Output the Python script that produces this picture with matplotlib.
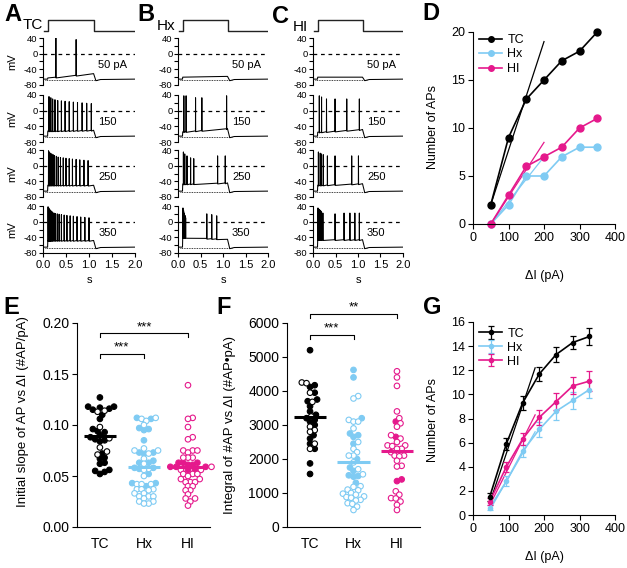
import numpy as np
import matplotlib
matplotlib.use('Agg')
import matplotlib.pyplot as plt

plt.rcParams['font.family'] = ['Liberation Sans', 'DejaVu Sans']
plt.rcParams['axes.linewidth'] = 0.8
plt.rcParams['xtick.major.width'] = 0.8
plt.rcParams['ytick.major.width'] = 0.8

# ---------------- data ----------------
groups = ['TC', 'Hx', 'HI']
step_labels = ['50 pA', '150', '250', '350']

# example traces: spike times (s), spike peaks (mV), plateau start/end (mV)
TC_spikes = [
    [0.28, 0.72],
    [0.13, 0.17, 0.21, 0.26, 0.32, 0.40, 0.48, 0.57, 0.66, 0.75, 0.85, 0.95, 1.05],
    [0.12, 0.14, 0.165, 0.19, 0.22, 0.25, 0.29, 0.33, 0.38, 0.44, 0.50, 0.57,
     0.64, 0.72, 0.80, 0.89, 0.98],
    [0.11, 0.125, 0.14, 0.155, 0.17, 0.19, 0.21, 0.24, 0.27, 0.31, 0.35, 0.40,
     0.46, 0.52, 0.59, 0.66, 0.74, 0.82, 0.91, 1.00],
]
TC_peaks = [
    [40, 36],
    [36, 33, 30, 28, 26, 25, 24, 23, 22, 21, 20, 19, 18],
    [38, 35, 32, 30, 28, 26, 24, 22, 21, 20, 19, 18, 17, 16, 15, 14, 13],
    [38, 35, 32, 30, 28, 26, 24, 22, 21, 20, 19, 18, 17, 16, 15, 14, 13, 12, 11, 10],
]
TC_plateau = [(-62, -51), (-52, -50), (-50, -50), (-48, -48)]

Hx_spikes = [
    [],
    [0.13, 0.18, 0.39, 0.53, 1.08],
    [0.12, 0.15, 0.20, 0.28, 0.35, 0.88, 1.05],
    [0.11, 0.125, 0.14, 0.155, 0.17, 0.64, 0.75, 0.86],
]
Hx_peaks = [
    [],
    [38, 38, 33, 33, 38],
    [35, 30, 25, 20, 18, 25, 25],
    [35, 28, 22, 16, 10, 20, 18, 15],
]
Hx_plateau = [(-60, -58), (-54, -46), (-47, -44), (-40, -45)]

HI_spikes = [
    [],
    [0.14, 0.19, 0.30, 0.49, 0.75, 1.03],
    [0.12, 0.16, 0.19, 0.23, 0.32, 0.49, 0.86, 1.01],
    [0.11, 0.13, 0.15, 0.17, 0.19, 0.22, 0.49, 0.69, 0.82, 0.93, 1.03],
]
HI_peaks = [
    [],
    [38, 35, 30, 30, 30, 30],
    [35, 32, 30, 28, 25, 25, 25, 25],
    [35, 32, 30, 28, 25, 22, 20, 22, 22, 22, 22],
]
HI_plateau = [(-60, -60), (-55, -48), (-50, -46), (-46, -46)]

# panel D: example cell
D_current = [50, 100, 150, 200, 250, 300, 350]
D_TC = [2, 9, 13, 15, 17, 18, 20]
D_Hx = [0, 2, 5, 5, 7, 8, 8]
D_HI = [0, 3, 6, 7, 8, 10, 11]
D_fit_x = [50, 200]
D_fit_TC = [2, 19]
D_fit_Hx = [0, 7]
D_fit_HI = [0, 8.5]

# panel E: initial slope (filled / open symbols)
E_TC_filled = [0.127, 0.118, 0.118, 0.117, 0.116, 0.115, 0.110, 0.106, 0.096, 0.094,
               0.093, 0.090, 0.088, 0.086, 0.085, 0.084, 0.072, 0.068, 0.067, 0.063,
               0.062, 0.056, 0.055, 0.054, 0.052]
E_TC_open = [0.114, 0.113, 0.098, 0.087, 0.078, 0.074, 0.071]
E_Hx_filled = [0.107, 0.106, 0.097, 0.096, 0.095, 0.085, 0.073, 0.073, 0.072, 0.065,
               0.063, 0.063, 0.058, 0.058, 0.057, 0.052, 0.043, 0.043, 0.040]
E_Hx_open = [0.107, 0.106, 0.104, 0.100, 0.077, 0.075, 0.075, 0.072, 0.067, 0.062,
             0.057, 0.056, 0.050, 0.042, 0.042, 0.042, 0.037, 0.037, 0.037, 0.036,
             0.033, 0.033, 0.030, 0.030, 0.030, 0.028, 0.025, 0.025, 0.023, 0.023]
E_HI_filled = [0.063, 0.063, 0.063, 0.061, 0.061, 0.059, 0.059, 0.059, 0.056, 0.056]
E_HI_open = [0.139, 0.107, 0.106, 0.098, 0.088, 0.086, 0.075, 0.075, 0.075, 0.073,
             0.068, 0.068, 0.068, 0.059, 0.056, 0.056, 0.052, 0.052, 0.052, 0.050,
             0.047, 0.047, 0.044, 0.044, 0.044, 0.040, 0.040, 0.036, 0.036, 0.032,
             0.028, 0.028, 0.025, 0.021]
E_means = [0.089, 0.059, 0.059]

# panel F: integral
F_TC_filled = [5200, 4170, 4120, 3950, 3750, 3700, 3550, 3400, 3300, 3200, 3150, 3100,
               3000, 2700, 2600, 2450, 2300, 1870, 1560]
F_TC_open = [4250, 4230, 3950, 3680, 3250, 2950, 2850, 2800, 2450, 2300]
F_Hx_filled = [4620, 4400, 3200, 2750, 2700, 2650, 2450, 2000, 1750, 1650, 1520, 1500,
               1480, 1300]
F_Hx_open = [3850, 3780, 3150, 3100, 3100, 2900, 2500, 2300, 2200, 2100, 2100, 1900,
             1700, 1550, 1200, 1180, 1100, 1080, 1000, 980, 950, 900, 880, 860, 800,
             780, 700, 680, 600, 500]
F_HI_filled = [3100, 2650, 1400, 1350]
F_HI_open = [4580, 4400, 4150, 3400, 3200, 3050, 2950, 2700, 2600, 2500, 2400, 2400,
             2380, 2300, 2300, 2200, 2100, 2100, 2080, 1950, 1800, 1780, 1050, 950,
             850, 840, 750, 650, 500]
F_means = [3250, 1920, 2250]

# panel G: population mean +/- SEM
G_current = [47, 94, 140, 187, 234, 281, 328]
G_TC = [1.5, 5.9, 9.3, 11.7, 13.3, 14.3, 14.8]
G_TC_err = [0.3, 0.5, 0.6, 0.6, 0.6, 0.5, 0.7]
G_Hx = [0.6, 2.8, 5.3, 7.1, 8.6, 9.5, 10.4]
G_Hx_err = [0.2, 0.4, 0.5, 0.6, 0.7, 0.7, 0.7]
G_HI = [1.1, 4.0, 6.3, 8.1, 9.4, 10.7, 11.1]
G_HI_err = [0.3, 0.4, 0.5, 0.6, 0.7, 0.7, 0.8]
G_fit_x = [47, 175]
G_fit_TC = [1.0, 12.2]
G_fit_Hx = [0.4, 6.9]
G_fit_HI = [0.8, 8.3]

BLACK = '#000000'
BLUE = '#7fcbf3'
PINK = '#e5198c'
colors = [BLACK, BLUE, PINK]

# ---------------- figure ----------------
W, H = 627, 568
fig = plt.figure(figsize=(W / 100, H / 100), dpi=100)


def add_ax(l, t, r, b):
    return fig.add_axes([l / W, 1 - b / H, (r - l) / W, (b - t) / H])


def ftext(x, y, s, **kw):
    return fig.text(x / W, 1 - y / H, s, **kw)


REST = -65
T_ON, T_OFF = 0.10, 1.10


def build_trace(spk, pk, plat):
    v0, v1 = plat
    t = [0.0, T_ON, T_ON + 0.005]
    v = [REST, REST, v0]
    for ts, p in zip(spk, pk):
        base = v0 + (v1 - v0) * (ts - T_ON) / (T_OFF - T_ON)
        t += [ts - 0.002, ts, ts + 0.003]
        v += [base, p, base - 2]
    t += [T_OFF, T_OFF + 0.05, T_OFF + 0.15, 2.0]
    v += [v1, REST - 4, REST - 1, REST]
    return t, v


row_tops = [38, 95, 150, 206]
row_h = 47
panel_lefts = [43, 178, 313]
panel_w = [92, 90, 90]
all_spikes = [TC_spikes, Hx_spikes, HI_spikes]
all_peaks = [TC_peaks, Hx_peaks, HI_peaks]
all_plat = [TC_plateau, Hx_plateau, HI_plateau]

for p in range(3):
    L = panel_lefts[p]
    R = L + panel_w[p]
    # stimulus step
    sax = add_ax(L, 18, R, 33)
    sax.plot([0.03, T_ON, T_ON, T_OFF, T_OFF, 2.0], [0, 0, 1, 1, 0, 0], color='#222222', lw=1.0)
    sax.set_xlim(0, 2)
    sax.set_ylim(-0.2, 1.2)
    sax.axis('off')
    for r in range(4):
        ax = add_ax(L, row_tops[r], R, row_tops[r] + row_h)
        t, v = build_trace(all_spikes[p][r], all_peaks[p][r], all_plat[p][r])
        ax.plot(t, v, color='black', lw=0.75)
        ax.plot([0, 2], [0, 0], color='black', lw=0.9, ls=(0, (3, 3)))
        ax.plot([0.05, 1.2], [REST - 1, REST - 1], color='black', lw=0.6, ls=(0, (1, 1)))
        ax.set_xlim(0, 2)
        ax.set_ylim(-80, 40)
        ax.set_yticks([-80, -60, -40, -20, 0, 20, 40])
        ax.set_yticklabels(['-80', '', '-40', '', '0', '', '40'])
        ax.tick_params(axis='y', length=3, labelsize=6.8, pad=1)
        for s in ['top', 'right']:
            ax.spines[s].set_visible(False)
        ax.text(1.2, -30, step_labels[r], fontsize=8, va='center', ha='left')
        if r < 3:
            ax.spines['bottom'].set_visible(False)
            ax.set_xticks([])
        else:
            ax.set_xticks([0, 0.5, 1.0, 1.5, 2.0])
            ax.set_xticklabels(['0.0', '0.5', '1.0', '1.5', '2.0'])
            ax.tick_params(axis='x', length=3, labelsize=8, pad=2)
        if p == 0:
            ftext(12, row_tops[r] + row_h / 2, 'mV', rotation=90, fontsize=8,
                  ha='center', va='center')
    ftext(L + panel_w[p] / 2, 280, 's', fontsize=8, ha='center', va='center')

ftext(23, 29, 'TC', fontsize=11, ha='left', va='baseline')
ftext(157, 30, 'Hx', fontsize=11, ha='left', va='baseline')
ftext(293, 31, 'HI', fontsize=11, ha='left', va='baseline')

# panel letters
for lab, x, y in [('A', 4, 3), ('B', 137, 3), ('C', 272, 5), ('D', 422, 2),
                  ('E', 3, 296), ('F', 216, 296), ('G', 423, 296)]:
    ftext(x, y, lab, fontsize=17, fontweight='bold', ha='left', va='top')


def style_axes(ax):
    for s in ['top', 'right']:
        ax.spines[s].set_visible(False)
    ax.tick_params(length=3.5, labelsize=9, pad=2)


# ---------------- panel D ----------------
axD = add_ax(473, 32, 615, 224)
for c, f in [(BLACK, D_fit_TC), (BLUE, D_fit_Hx), (PINK, D_fit_HI)]:
    axD.plot(D_fit_x, f, color=c, lw=0.9)
lines = []
for y, c, name in [(D_TC, BLACK, 'TC'), (D_Hx, BLUE, 'Hx'), (D_HI, PINK, 'HI')]:
    ln, = axD.plot(D_current, y, color=c, lw=1.2, marker='o', ms=5, clip_on=False, label=name)
    lines.append(ln)
axD.set_xlim(0, 400)
axD.set_ylim(0, 20)
axD.set_xticks([0, 100, 200, 300, 400])
axD.set_yticks([0, 5, 10, 15, 20])
style_axes(axD)
axD.legend(handles=lines, loc='upper left', bbox_to_anchor=(0.04, 0.99), frameon=False,
           fontsize=9, handlelength=1.9, handletextpad=0.4, labelspacing=0.2,
           borderpad=0, borderaxespad=0, markerscale=0.8)
ftext(544, 276, 'ΔI (pA)', fontsize=9, ha='center', va='center')
ftext(433, 127, 'Number of APs', fontsize=9, ha='center', va='center', rotation=90)


# ---------------- beeswarm helper ----------------
def swarm(vals, px_y, px_x, d=4.7):
    vals = np.asarray(vals, float)
    order = np.argsort(vals)
    placed = []
    offs = np.zeros(len(vals))
    step = d / 4.0
    for i in order:
        y = vals[i] * px_y
        ok = 0.0
        for k in range(0, 80):
            cands = [0.0] if k == 0 else [k * step, -k * step]
            found = False
            for x in cands:
                if all((x - px) ** 2 + (y - py) ** 2 >= d * d for px, py in placed):
                    ok = x
                    found = True
                    break
            if found:
                break
        placed.append((ok, y))
        offs[i] = ok / px_x
    return offs


def dot_panel(ax, filled, opened, means, px_y, px_x):
    for g in range(3):
        vals = list(filled[g]) + list(opened[g])
        isf = [True] * len(filled[g]) + [False] * len(opened[g])
        offs = swarm(vals, px_y, px_x)
        xs = g + offs
        fc = [colors[g] if f else 'white' for f in isf]
        ax.scatter(xs, vals, s=16, facecolors=fc, edgecolors=colors[g], linewidths=0.8,
                   zorder=3, clip_on=False)
        ax.plot([g - 0.37, g + 0.37], [means[g], means[g]], color=colors[g], lw=2.2,
                zorder=4, solid_capstyle='butt')
    ax.set_xlim(-0.52, 2.5)
    ax.set_xticks([0, 1, 2])
    ax.set_xticklabels(groups)
    for s in ['top', 'right']:
        ax.spines[s].set_visible(False)
    ax.tick_params(axis='y', length=3.5, labelsize=10, pad=2)
    ax.tick_params(axis='x', length=0, labelsize=10, pad=7)


def bracket(ax, x0, x1, y, tick, label):
    ax.plot([x0, x0, x1, x1], [y - tick, y, y, y - tick], color='black', lw=0.8, clip_on=False)
    ax.text((x0 + x1) / 2, y, label, ha='center', va='bottom', fontsize=9.5, clip_on=False)


# ---------------- panel E ----------------
axE = add_ax(77, 323, 210, 527)
axE.set_ylim(0, 0.2)
axE.set_yticks([0, 0.05, 0.10, 0.15, 0.20])
axE.set_yticklabels(['0.00', '0.05', '0.10', '0.15', '0.20'])
dot_panel(axE, [E_TC_filled, E_Hx_filled, E_HI_filled], [E_TC_open, E_Hx_open, E_HI_open],
          E_means, 204 / 0.2, 44)
bracket(axE, 0, 2, 0.190, 0.004, '***')
bracket(axE, 0, 1, 0.170, 0.004, '***')
ftext(23, 412, 'Initial slope of AP vs ΔI (#AP/pA)', fontsize=9.5, ha='center', va='center',
      rotation=90)

# ---------------- panel F ----------------
axF = add_ax(287, 323, 420, 527)
axF.set_ylim(0, 6000)
axF.set_yticks([0, 1000, 2000, 3000, 4000, 5000, 6000])
dot_panel(axF, [F_TC_filled, F_Hx_filled, F_HI_filled], [F_TC_open, F_Hx_open, F_HI_open],
          F_means, 204 / 6000, 43.5)
axF.set_xlim(-0.53, 2.53)
bracket(axF, 0, 2, 6270, 120, '**')
bracket(axF, 0, 1, 5650, 120, '***')
ftext(230, 425, 'Integral of #AP vs ΔI (#AP•pA)', fontsize=9.5, ha='center', va='center',
      rotation=90)

# ---------------- panel G ----------------
axG = add_ax(473, 322, 615, 515)
for f, c in [(G_fit_TC, BLACK), (G_fit_Hx, BLUE), (G_fit_HI, PINK)]:
    axG.plot(G_fit_x, f, color=c, lw=0.9)
gl = []
for y, e, c, name in [(G_Hx, G_Hx_err, BLUE, 'Hx'), (G_HI, G_HI_err, PINK, 'HI'),
                      (G_TC, G_TC_err, BLACK, 'TC')]:
    h = axG.errorbar(G_current, y, yerr=e, color=c, lw=1.2, marker='o', ms=3,
                     capsize=2, elinewidth=0.9, capthick=0.9, label=name, clip_on=False)
    gl.append(h)
axG.set_xlim(0, 400)
axG.set_ylim(0, 16)
axG.set_xticks([0, 100, 200, 300, 400])
axG.set_yticks(range(0, 17, 2))
style_axes(axG)
axG.legend(handles=[gl[2], gl[0], gl[1]], labels=['TC', 'Hx', 'HI'], loc='upper left',
           bbox_to_anchor=(0.04, 0.97), frameon=False, fontsize=9, handlelength=1.9,
           handletextpad=0.4, labelspacing=0.15, borderpad=0, borderaxespad=0)
ftext(544, 557, 'ΔI (pA)', fontsize=9, ha='center', va='center')
ftext(433, 420, 'Number of APs', fontsize=9, ha='center', va='center', rotation=90)

fig.savefig('out.png', dpi=100)
